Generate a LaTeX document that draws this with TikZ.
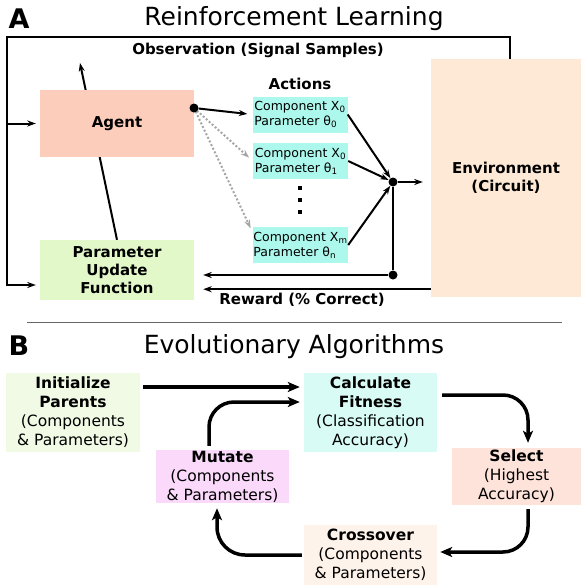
\documentclass[tikz,border=0pt]{standalone}
\usepackage{fontspec}
\setmainfont{DejaVu Sans}
\usetikzlibrary{arrows.meta,positioning,backgrounds}

\definecolor{agentc}{HTML}{FDCDBC}
\definecolor{updc}{HTML}{E2F8C9}
\definecolor{actc}{HTML}{ADF8EC}
\definecolor{envc}{HTML}{FDE9D6}
\definecolor{initc}{HTML}{F1FAE5}
\definecolor{calcc}{HTML}{D8FCF5}
\definecolor{selc}{HTML}{FDE3DA}
\definecolor{crossc}{HTML}{FEF3EA}
\definecolor{mutc}{HTML}{FAD9FA}

\tikzset{
  box/.style = {align=center, inner sep=0pt, text centered},
  panel/.style = {box, font=\fontsize{27}{30}\selectfont\bfseries},
  title/.style = {box, font=\fontsize{25}{30}\selectfont},
  rl_l/.style = {box, font=\fontsize{15}{18}\selectfont\bfseries},% label of part A
  rl_n/.style = {rl_l},% box of part A
  act_n/.style = {box, align=left, fill=actc, minimum width=95pt,
    minimum height=36pt, font=\fontsize{12.5}{15}\selectfont},% action box
  evo_n/.style = {box, font=\fontsize{15.5}{19}\selectfont},% box of part B
  dot/.style = {circle, fill=black, inner sep=0pt, minimum size=9pt},
  sq/.style = {fill=black, inner sep=0pt, minimum size=4.5pt},
  rl_line/.style = {line width=2pt},
  rl_arr/.style = {rl_line, -{Stealth[length=8.5pt,width=6pt]}},
  rl_dot/.style = {line width=2pt, gray!70, dash pattern=on 2pt off 2pt,
    -{Stealth[length=8.5pt,width=6pt]}, shorten >=5pt},
  evo_arr/.style = {line width=3.5pt, rounded corners=25pt,
    -{Stealth[length=12pt,width=10pt,inset=3pt]}}
}

\begin{document}
\begin{tikzpicture}[x=1pt, y=-1pt]
  \useasboundingbox (0,0) rectangle (581,587);

  % A: reinforcement learning
  \node [panel] (la) at (19,19) {A};
  \node [title] (ta) at (294,19) {Reinforcement Learning};
  \node [rl_n, fill=agentc, minimum width=154pt, minimum height=67pt] (agent) at (117,123.5) {Agent};
  \node [rl_n, fill=updc, minimum width=154pt, minimum height=60pt] (upd) at (117,270) {Parameter\\Update\\Function};
  \node [rl_n, fill=envc, minimum width=150pt, minimum height=238pt] (env) at (506,178) {Environment\\(Circuit)};
  \node [act_n] (act0) at (300,114.5) {Component X\textsubscript{0}\\Parameter θ\textsubscript{0}};
  \node [act_n] (act1) at (300.5,161) {Component X\textsubscript{0}\\Parameter θ\textsubscript{1}};
  \node [act_n] (actn) at (300.5,245) {Component X\textsubscript{m}\\Parameter θ\textsubscript{n}};
  \node [rl_l, above=6pt of act0] (actl) {Actions};
  \node [rl_l] (obs) at (258,50) {Observation (Signal Samples)};
  \node [rl_l] (rwl) at (302,300) {Reward (\% Correct)};
  \foreach \y in {188,200,212}
    \node [sq] at (300,\y) {};

  \coordinate (obsR) at (510,37);
  \coordinate (obsL) at (7,37);
  \coordinate (obsA) at (7,123.5);
  \coordinate (up) at (80,63);
  \coordinate (rw) at ([yshift=8pt]env.south west);

  \begin{pgfonlayer}{background}
    \draw [rl_arr] (upd.north) -- (up);
  \end{pgfonlayer}
  \draw [rl_arr, shorten >=4pt] (env.north -| obsR) -- (obsR) -- (obsL) |- ([yshift=-15pt]upd.west);
  \draw [rl_arr, shorten >=4pt] (obsA) -- (agent.west);

  \draw [rl_dot] (194,108) -- (act1.west);
  \draw [rl_dot] (194,108) -- ([yshift=-6pt]actn.north west);
  \node [dot] (adot) at (194,108) {};
  \node [dot] (jdot) at (393,182) {};
  \node [dot] (rdot) at (393,275) {};
  \draw [rl_arr, shorten >=5pt] (adot) -- (act0.west);
  \draw [rl_arr] (act0.east) -- (jdot);
  \draw [rl_arr] (act1.east) -- (jdot);
  \draw [rl_arr] (actn.east) -- (jdot);
  \draw [rl_arr, shorten >=8pt] (jdot) -- (jdot -| env.west);
  \draw [rl_line] (jdot) -- (rdot);
  \draw [rl_arr, shorten >=9pt] (rdot) -- (rdot -| upd.east);
  \draw [rl_arr, shorten >=9pt] (rw) -- (rw -| upd.east);

  \draw [line width=1pt, black!60] (27,322) -- (562,322);

  % B: evolutionary algorithms
  \node [panel] (lb) at (19,346) {B};
  \node [title] (tb) at (294,347) {Evolutionary Algorithms};
  \node [evo_n, fill=initc, minimum width=134pt, minimum height=79pt] (init) at (73,412.5) {\textbf{Initialize}\\\textbf{Parents}\\(Components\\\& Parameters)};
  \node [evo_n, fill=calcc, minimum width=133pt, minimum height=79pt] (calc) at (370.5,412.5) {\textbf{Calculate}\\\textbf{Fitness}\\(Classification\\Accuracy)};
  \node [evo_n, fill=selc, minimum width=129pt, minimum height=57pt] (select) at (516.5,476.5) {\textbf{Select}\\(Highest\\Accuracy)};
  \node [evo_n, fill=crossc, minimum width=133pt, minimum height=60pt] (cross) at (370.5,555) {\textbf{Crossover}\\(Components\\\& Parameters)};
  \node [evo_n, fill=mutc, minimum width=133pt, minimum height=53pt] (mutate) at (222.5,476.5) {\textbf{Mutate}\\(Components\\\& Parameters)};

  \draw [evo_arr, shorten <=3pt, shorten >=4pt] ([yshift=25.5pt]init.east) -- ([yshift=25.5pt]calc.west);
  \draw [evo_arr, shorten <=4pt, shorten >=4pt] ([xshift=-13.5pt]mutate.north) |- ([yshift=10.5pt]calc.west);
  \draw [evo_arr, shorten <=5pt, shorten >=5pt] ([yshift=17.5pt]calc.east) -| ([xshift=11.5pt]select.north);
  \draw [evo_arr, shorten <=4pt, shorten >=3pt] ([xshift=11.5pt]select.south) |- ([yshift=3pt]cross.east);
  \draw [evo_arr, rounded corners=28pt, shorten <=2pt, shorten >=5pt] (cross.west) -| ([xshift=-5.5pt]mutate.south);
\end{tikzpicture}
\end{document}
